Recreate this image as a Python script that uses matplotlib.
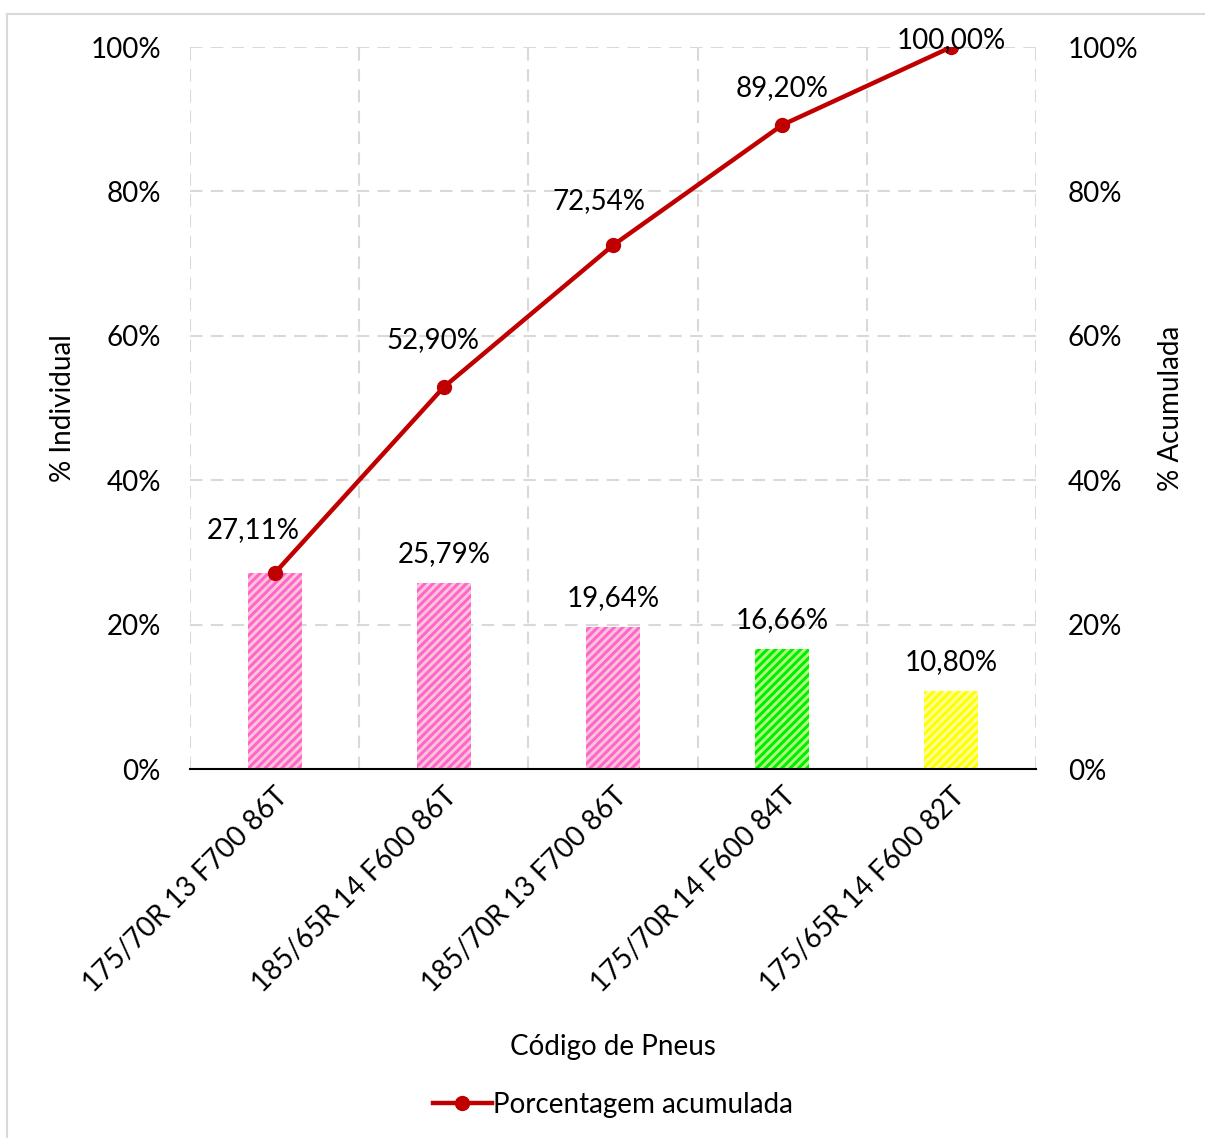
import matplotlib
matplotlib.use("Agg")
import matplotlib.pyplot as plt
from matplotlib.lines import Line2D
from matplotlib.ticker import FuncFormatter
import numpy as np

plt.rcParams['font.family'] = ['Lato', 'DejaVu Sans']
plt.rcParams['hatch.linewidth'] = 2.2

# Data
codigos = ["175/70R 13 F700 86T", "185/65R 14 F600 86T", "185/70R 13 F700 86T",
           "175/70R 14 F600 84T", "175/65R 14 F600 82T"]
individual = [27.11, 25.79, 19.64, 16.66, 10.80]
acumulada = [27.11, 52.90, 72.54, 89.20, 100.00]

# Styling
FS = 20
bar_faces = ["#ffc6d9", "#ffc6d9", "#ffc6d9", "#b2ff80", "#ffff99"]
bar_hatch = ["#ff66cc", "#ff66cc", "#ff66cc", "#00ee00", "#ffff00"]
line_color = "#c00000"
grid_color = "#d9d9d9"
# label offsets (pixels) for the cumulative line labels
line_label_offsets = [(-21, 43), (-11, 47), (-14, 44), (0, 37), (0, 7)]

fig = plt.figure(figsize=(12.05, 11.38), dpi=100)
ax = fig.add_axes([190 / 1205, 1 - 769 / 1138, (1036 - 190) / 1205, (769 - 47) / 1138])
ax2 = ax.twinx()

x = np.arange(len(codigos))
for xi, v, fc, hc in zip(x, individual, bar_faces, bar_hatch):
    ax.bar(xi, v, width=0.32, facecolor=fc, edgecolor=hc, hatch="////", linewidth=0, zorder=2)

ax.set_xlim(-0.5, len(codigos) - 0.5)
ax.set_ylim(0, 100)
ax2.set_ylim(0, 100)

pct = FuncFormatter(lambda v, p: f"{v:.0f}%")
for a in (ax, ax2):
    a.set_yticks(np.arange(0, 101, 20))
    a.yaxis.set_major_formatter(pct)
    a.tick_params(axis='y', length=0, labelsize=FS)
    for s in a.spines.values():
        s.set_visible(False)
ax.tick_params(axis='y', pad=21)
ax2.tick_params(axis='y', pad=23)
ax.spines['bottom'].set_visible(True)
ax.spines['bottom'].set_color('black')
ax.spines['bottom'].set_linewidth(1.5)
ax.spines['bottom'].set_zorder(5)

# grid: horizontal at y ticks, vertical at category boundaries
for yv in np.arange(20, 101, 20):
    ax.axhline(yv, color=grid_color, lw=1.5, ls=(0, (6, 4)), zorder=0)
for xb in np.arange(-0.5, len(codigos), 1.0):
    ax.axvline(xb, color=grid_color, lw=1.5, ls=(0, (6, 4)), zorder=0)

ax.set_xticks(x)
ax.set_xticklabels(codigos, rotation=45, ha='right', va='top', rotation_mode='anchor', fontsize=FS)
ax.tick_params(axis='x', length=0, pad=10)

ax.set_ylabel("% Individual", fontsize=FS, labelpad=10)
ax2.set_ylabel("% Acumulada", fontsize=FS, labelpad=14)
ax.set_xlabel("Código de Pneus", fontsize=FS, labelpad=27)

# bar value labels (first category shares its label with the line)
for xi, v in zip(x[1:], individual[1:]):
    ax.annotate(f"{v:.2f}%".replace('.', ','), (xi, v), xytext=(0, 29),
                textcoords='offset pixels', ha='center', va='center', fontsize=FS, zorder=6)

ln, = ax2.plot(x, acumulada, color=line_color, lw=3.2, marker='o', ms=10, zorder=4,
               label="Porcentagem acumulada")
for xi, v, (dx, dy) in zip(x, acumulada, line_label_offsets):
    ax2.annotate(f"{v:.2f}%".replace('.', ','), (xi, v), xytext=(dx, dy),
                 textcoords='offset pixels', ha='center', va='center', fontsize=FS, zorder=6)

fig.legend(handles=[ln], loc='center', bbox_to_anchor=(613 / 1205, 1 - 1105 / 1138),
           frameon=False, fontsize=FS, handlelength=2.1, handletextpad=0.05)

# chart frame
fig.add_artist(Line2D([7 / 1205, 1], [1 - 14 / 1138, 1 - 14 / 1138], color=grid_color, lw=1.5))
fig.add_artist(Line2D([7 / 1205, 7 / 1205], [0, 1 - 14 / 1138], color=grid_color, lw=1.5))

fig.savefig("out.png", dpi=100)
